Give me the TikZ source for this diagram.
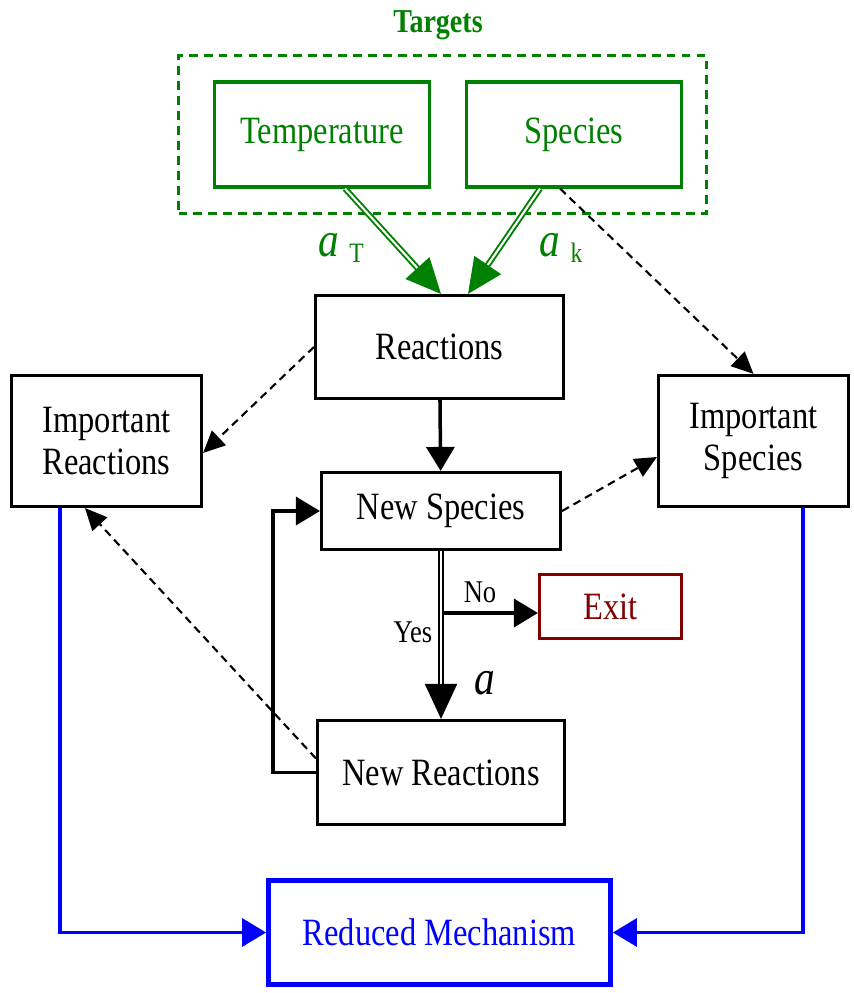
\documentclass[tikz,border=0pt]{standalone}
\usepackage{fontspec}
\setmainfont{Liberation Serif}[FakeStretch=0.84]
\usetikzlibrary{arrows.meta}
\definecolor{tgtgreen}{RGB}{0,128,0}
\definecolor{exitred}{RGB}{128,0,0}
\definecolor{mechblue}{RGB}{0,0,255}
\tikzset{
	box/.style={draw, line width=1.8pt, align=center, inner sep=0pt, font=\fontsize{22}{24}\selectfont},
	tgtbox/.style={box, draw=tgtgreen, text=tgtgreen},
	bigtip/.style={-{Triangle[length=0.7cm,width=0.64cm]}},
	midtip/.style={-{Triangle[length=0.48cm,width=0.56cm]}, line width=2pt},
	dashtip/.style={-{Triangle[length=0.44cm,width=0.4cm]}, line width=1.2pt, dash pattern=on 4.5pt off 3pt},
	dbl/.style={double, double distance=1.2pt, line width=1.1pt},
	lbl/.style={font=\fontsize{18}{18}\selectfont},
	coef/.style={font=\fontsize{28}{28}\selectfont\itshape},
}
\begin{document}
\begin{tikzpicture}[x=0.02cm, y=-0.02cm]
	\useasboundingbox (0,0) rectangle (854,993);
	% targets
	\node[font=\fontsize{19}{19}\selectfont\bfseries, text=tgtgreen] (tgt) at (438,25) {Targets};
	\node[draw=tgtgreen, line width=1.3pt, dash pattern=on 5pt off 3.5pt, minimum width=10.56cm, minimum height=3.16cm] (tgtframe) at (442.5,134.5) {};
	\node[tgtbox, minimum width=4.3cm, minimum height=2.1cm] (temp) at (322,134.5) {Temperature};
	\node[tgtbox, minimum width=4.3cm, minimum height=2.1cm] (spc) at (574,134.5) {Species};
	% main boxes
	\node[box, minimum width=4.96cm, minimum height=2.06cm] (reac) at (439.5,347) {Reactions};
	\node[box, minimum width=3.8cm, minimum height=2.62cm] (irx) at (106.5,441) {Important\\Reactions};
	\node[box, minimum width=3.8cm, minimum height=2.62cm] (isp) at (753.5,441) {Important\\Species};
	\node[box, minimum width=4.78cm, minimum height=1.54cm] (nsp) at (441,511) {New Species};
	\node[box, draw=exitred, text=exitred, minimum width=2.84cm, minimum height=1.28cm] (ex) at (610.5,606.5) {Exit};
	\node[box, minimum width=4.94cm, minimum height=2.08cm] (nrx) at (441,772.5) {New Reactions};
	\node[box, draw=mechblue, text=mechblue, line width=2.8pt, minimum width=6.84cm, minimum height=2.08cm] (red) at (439.5,932.5) {Reduced Mechanism};
	% target coefficients
	\draw[dbl, tgtgreen, bigtip] ([xshift=0.46cm]temp.south) -- ([xshift=0.03cm]reac.north);
	\draw[dbl, tgtgreen, bigtip] ([xshift=-0.68cm]spc.south) -- ([xshift=0.57cm]reac.north);
	\node[coef, text=tgtgreen] (aT) at (341,248) {a\ \raisebox{-3pt}{\upshape\fontsize{16}{16}\selectfont T}};
	\node[coef, text=tgtgreen] (ak) at (561,248) {a\ \raisebox{-3pt}{\upshape\fontsize{16}{16}\selectfont k}};
	% dashed selections
	\draw[dashtip] ([xshift=-0.28cm]spc.south) -- (isp.north);
	\draw[dashtip] (reac.west) -- ([yshift=-0.24cm]irx.east);
	\draw[dashtip] (nsp.east) -- ([yshift=-0.32cm]isp.west);
	\draw[dashtip] ([yshift=0.28cm]nrx.west) -- ([xshift=-0.43cm]irx.south);
	% loop
	\draw[midtip] (reac) -- (nsp);
	\draw[midtip] (nrx.west) -- ++(-43,0) |- (nsp.west);
	\draw[dbl, bigtip] (nsp) -- (nrx);
	\coordinate (br) at (442,613);
	\draw[midtip] (br) -- (br -| ex.west);
	\node[lbl] (yes) at (413,632) {Yes};
	\node[lbl] (no) at (480,592) {No};
	\node[coef] (acoef) at (485,683) {a};
	% reduced mechanism
	\draw[midtip, mechblue] ([xshift=-0.93cm]irx.south) |- (red.west);
	\draw[midtip, mechblue] ([xshift=0.99cm]isp.south) |- (red.east);
\end{tikzpicture}
\end{document}
